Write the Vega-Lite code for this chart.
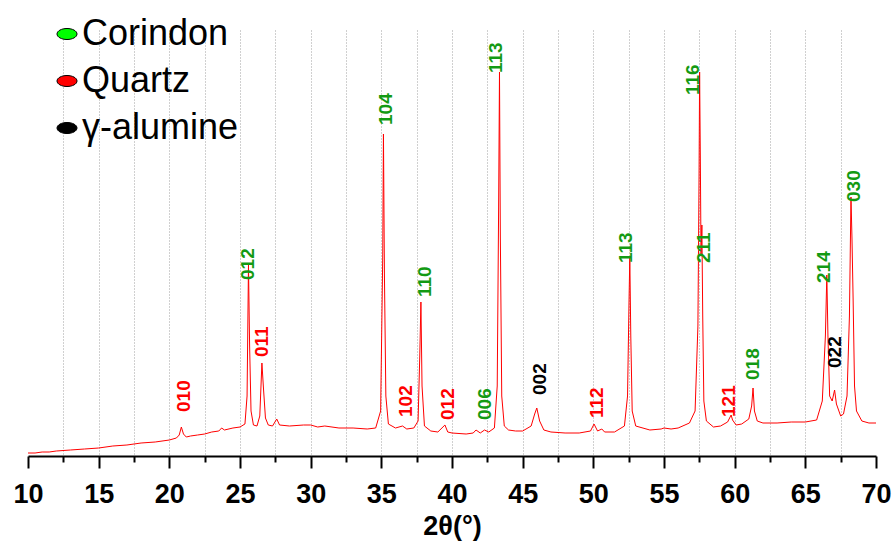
{
  "$schema": "https://vega.github.io/schema/vega-lite/v6.json",
  "autosize": {"type": "none"},
  "width": 848,
  "height": 426,
  "padding": {"left": 28, "top": 30, "right": 20, "bottom": 86},
  "background": "white",
  "config": {"view": {"stroke": null}, "font": "Liberation Sans"},
  "datasets": {
    "xrd": [
      {"t":10.0,"i":3},{"t":10.5,"i":3},{"t":11,"i":4},{"t":11.5,"i":4},{"t":12,"i":5},{"t":13,"i":6},{"t":14,"i":7},{"t":15,"i":8},{"t":16,"i":10},{"t":17,"i":11},{"t":18,"i":13},{"t":19,"i":14},{"t":20,"i":16},{"t":20.5,"i":18},{"t":20.7,"i":21},{"t":20.85,"i":29},{"t":21.0,"i":22},{"t":21.2,"i":19},{"t":21.5,"i":20},{"t":22,"i":21},{"t":22.5,"i":22},{"t":23,"i":24},{"t":23.5,"i":25},{"t":23.7,"i":28},{"t":23.9,"i":26},{"t":24.5,"i":28},{"t":25,"i":29},{"t":25.35,"i":32},{"t":25.5,"i":60},{"t":25.6,"i":191},{"t":25.68,"i":110},{"t":25.78,"i":45},{"t":25.95,"i":31},{"t":26.2,"i":30},{"t":26.4,"i":40},{"t":26.55,"i":93},{"t":26.65,"i":70},{"t":26.8,"i":38},{"t":27.0,"i":31},{"t":27.3,"i":30},{"t":27.6,"i":37},{"t":27.8,"i":31},{"t":28.5,"i":30},{"t":29.5,"i":31},{"t":30,"i":31},{"t":30.5,"i":29},{"t":31,"i":30},{"t":32,"i":28},{"t":33,"i":28},{"t":34,"i":27},{"t":34.6,"i":28},{"t":34.95,"i":45},{"t":35.1,"i":200},{"t":35.15,"i":322},{"t":35.22,"i":180},{"t":35.32,"i":60},{"t":35.5,"i":32},{"t":36,"i":28},{"t":36.5,"i":30},{"t":36.8,"i":27},{"t":37.3,"i":28},{"t":37.6,"i":35},{"t":37.72,"i":100},{"t":37.8,"i":154},{"t":37.88,"i":70},{"t":38.05,"i":30},{"t":38.5,"i":25},{"t":39,"i":24},{"t":39.5,"i":31},{"t":39.7,"i":24},{"t":40,"i":23},{"t":41,"i":22},{"t":41.5,"i":23},{"t":41.7,"i":26},{"t":42.0,"i":23},{"t":42.3,"i":26},{"t":42.6,"i":24},{"t":43.0,"i":28},{"t":43.2,"i":70},{"t":43.3,"i":250},{"t":43.36,"i":384},{"t":43.42,"i":220},{"t":43.52,"i":60},{"t":43.7,"i":30},{"t":44,"i":26},{"t":44.5,"i":25},{"t":45,"i":25},{"t":45.6,"i":30},{"t":45.85,"i":42},{"t":46.0,"i":48},{"t":46.2,"i":35},{"t":46.5,"i":26},{"t":47,"i":24},{"t":48,"i":23},{"t":49,"i":23},{"t":49.8,"i":25},{"t":50.05,"i":32},{"t":50.3,"i":25},{"t":50.6,"i":27},{"t":50.8,"i":24},{"t":51.5,"i":24},{"t":52.2,"i":30},{"t":52.42,"i":60},{"t":52.52,"i":150},{"t":52.58,"i":199},{"t":52.65,"i":120},{"t":52.75,"i":45},{"t":53,"i":30},{"t":54,"i":26},{"t":54.8,"i":27},{"t":55,"i":28},{"t":55.5,"i":27},{"t":56,"i":28},{"t":56.8,"i":33},{"t":57.2,"i":45},{"t":57.4,"i":130},{"t":57.48,"i":280},{"t":57.52,"i":384},{"t":57.57,"i":300},{"t":57.62,"i":200},{"t":57.68,"i":231},{"t":57.74,"i":140},{"t":57.82,"i":55},{"t":58,"i":35},{"t":58.5,"i":29},{"t":59,"i":30},{"t":59.5,"i":34},{"t":59.75,"i":41},{"t":59.85,"i":36},{"t":60.1,"i":31},{"t":60.5,"i":32},{"t":61,"i":37},{"t":61.2,"i":50},{"t":61.3,"i":68},{"t":61.4,"i":45},{"t":61.6,"i":35},{"t":62,"i":33},{"t":63,"i":33},{"t":64,"i":34},{"t":65,"i":34},{"t":65.8,"i":36},{"t":66.2,"i":55},{"t":66.42,"i":120},{"t":66.52,"i":181},{"t":66.6,"i":120},{"t":66.72,"i":60},{"t":66.9,"i":55},{"t":67.07,"i":66},{"t":67.2,"i":52},{"t":67.5,"i":40},{"t":67.7,"i":42},{"t":67.95,"i":60},{"t":68.12,"i":140},{"t":68.23,"i":259},{"t":68.3,"i":218},{"t":68.38,"i":158},{"t":68.48,"i":70},{"t":68.62,"i":45},{"t":69,"i":35},{"t":69.5,"i":33},{"t":70,"i":33}
    ],
    "labels": [
      {"t":21.05,"i":44,"hkl":"010","phase":"Quartz"},
      {"t":25.59,"i":176,"hkl":"012","phase":"Corindon"},
      {"t":26.54,"i":99,"hkl":"011","phase":"Quartz"},
      {"t":35.33,"i":331,"hkl":"104","phase":"Corindon"},
      {"t":36.75,"i":39,"hkl":"102","phase":"Quartz"},
      {"t":38.09,"i":159,"hkl":"110","phase":"Corindon"},
      {"t":39.7,"i":36,"hkl":"012","phase":"Quartz"},
      {"t":42.34,"i":36,"hkl":"006","phase":"Corindon"},
      {"t":43.1,"i":383,"hkl":"113","phase":"Corindon"},
      {"t":46.23,"i":61,"hkl":"002","phase":"γ-alumine"},
      {"t":50.24,"i":38,"hkl":"112","phase":"Quartz"},
      {"t":52.31,"i":193,"hkl":"113","phase":"Corindon"},
      {"t":57.08,"i":361,"hkl":"116","phase":"Corindon"},
      {"t":57.85,"i":193,"hkl":"211","phase":"Corindon"},
      {"t":59.62,"i":39,"hkl":"121","phase":"Quartz"},
      {"t":61.32,"i":76,"hkl":"018","phase":"Corindon"},
      {"t":66.32,"i":173,"hkl":"214","phase":"Corindon"},
      {"t":67.1,"i":88,"hkl":"022","phase":"γ-alumine"},
      {"t":68.45,"i":254,"hkl":"030","phase":"Corindon"}
    ]
  },
  "encoding": {
    "x": {
      "field": "t", "type": "quantitative",
      "scale": {"domain": [10, 70], "nice": false, "zero": false},
      "axis": {
        "title": "2θ(°)",
        "values": [10,12.5,15,17.5,20,22.5,25,27.5,30,32.5,35,37.5,40,42.5,45,47.5,50,52.5,55,57.5,60,62.5,65,67.5,70],
        "labelExpr": "datum.value % 5 === 0 ? format(datum.value, 'd') : ''",
        "tickSize": {"condition": {"test": "datum.value % 5 === 0", "value": 12}, "value": 6},
        "tickWidth": 2,
        "tickColor": "black",
        "domainColor": "black",
        "domainWidth": 2,
        "grid": true,
        "gridColor": "#a0a0a0",
        "gridDash": [1, 2],
        "gridWidth": 1,
        "gridOpacity": {"condition": {"test": "datum.value > 10 && datum.value < 70", "value": 1}, "value": 0},
        "labelFont": "Liberation Sans",
        "labelFontSize": 27,
        "labelFontWeight": "bold",
        "labelColor": "black",
        "labelPadding": 13,
        "labelFlush": false,
        "labelOverlap": false,
        "titleFont": "Liberation Sans",
        "titleFontSize": 27,
        "titleFontWeight": "bold",
        "titleColor": "black",
        "titlePadding": 6
      }
    },
    "y": {
      "field": "i", "type": "quantitative",
      "scale": {"domain": [0, 426], "nice": false},
      "axis": null
    }
  },
  "layer": [
    {
      "data": {"name": "xrd"},
      "mark": {"type": "line", "color": "#ff0000", "strokeWidth": 1, "interpolate": "linear"}
    },
    {
      "data": {"name": "labels"},
      "mark": {"type": "text", "angle": 270, "align": "left", "baseline": "middle", "font": "Liberation Sans", "fontSize": 19, "fontWeight": "bold"},
      "encoding": {
        "text": {"field": "hkl"},
        "color": {
          "field": "phase", "type": "nominal",
          "scale": {"domain": ["Corindon", "Quartz", "γ-alumine"], "range": ["#139a13", "#ff0000", "#000000"]},
          "legend": null
        }
      }
    },
    {
      "data": {"name": "labels"},
      "mark": {"type": "point", "filled": true, "opacity": 0},
      "encoding": {
        "fill": {
          "field": "phase", "type": "nominal",
          "scale": {"domain": ["Corindon", "Quartz", "γ-alumine"], "range": ["#00ff00", "#ff0000", "#000000"]},
          "legend": {
            "title": null,
            "orient": "none",
            "legendX": 21,
            "legendY": -14,
            "padding": 0,
            "symbolType": "M -1 0 A 1 0.55 0 1 1 1 0 A 1 0.55 0 1 1 -1 0 Z",
            "symbolSize": 400,
            "symbolOpacity": 1,
            "symbolStrokeColor": "black",
            "symbolStrokeWidth": 1,
            "labelFont": "Liberation Sans",
            "labelFontSize": 36,
            "labelColor": "black",
            "labelOffset": -3,
            "rowPadding": 11,
            "labelLimit": 400
          }
        }
      }
    }
  ],
  "resolve": {"scale": {"color": "independent"}}
}
